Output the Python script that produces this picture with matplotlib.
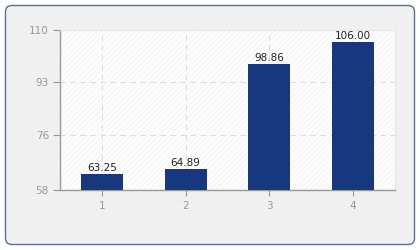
import matplotlib
matplotlib.use("Agg")
import matplotlib.pyplot as plt
from matplotlib.patches import FancyBboxPatch

categories = ["1", "2", "3", "4"]
values = [63.25, 64.89, 98.86, 106.00]
yticks = [58, 76, 93, 110]

plt.rcParams["hatch.linewidth"] = 0.6
fig = plt.figure(figsize=(4.2, 2.5), dpi=100)
fig.patch.set_facecolor("white")
box = FancyBboxPatch((5.5 / 420, 5.5 / 250), 409 / 420, 239 / 250,
                     boxstyle="round,pad=0,rounding_size=0.015",
                     transform=fig.transFigure, facecolor="#f0f0f0",
                     edgecolor="#5b6c9e", linewidth=1.0, zorder=-10,
                     mutation_aspect=420 / 250)
fig.patches.append(box)

ax = fig.add_axes([60 / 420, 1 - 190 / 250, 335 / 420, 160 / 250])
ax.set_zorder(1)
ax.set_facecolor("#fdfdfd")
ax.patch.set_hatch("//////")
ax.patch.set_edgecolor("#f2f2f2")
ax.patch.set_linewidth(0)

x = list(range(1, len(categories) + 1))
bars = ax.bar(x, values, width=0.5, color="#17377f", zorder=3, bottom=0)
for xi, v in zip(x, values):
    ax.text(xi, v + 0.4, f"{v:.2f}", ha="center", va="bottom",
            fontsize=7.5, color="#222222", zorder=4)

ax.set_xlim(0.5, 4.5)
ax.set_ylim(58, 110)
ax.set_xticks(x)
ax.set_xticklabels(categories)
ax.set_yticks(yticks)
ax.grid(True, color="#dddddd", linestyle=(0, (5, 4)), linewidth=0.8, zorder=1)
ax.set_axisbelow(True)

for s in ["top", "right"]:
    ax.spines[s].set_color("#e6e6e6")
    ax.spines[s].set_linewidth(0.8)
for s in ["left", "bottom"]:
    ax.spines[s].set_color("#999999")
    ax.spines[s].set_linewidth(1.0)

ax.tick_params(axis="both", colors="#999999", labelcolor="#999999",
               labelsize=7.5, length=4, width=0.8, pad=4)
ax.tick_params(axis="y", length=5, pad=3)

fig.savefig("out.png", dpi=100)
